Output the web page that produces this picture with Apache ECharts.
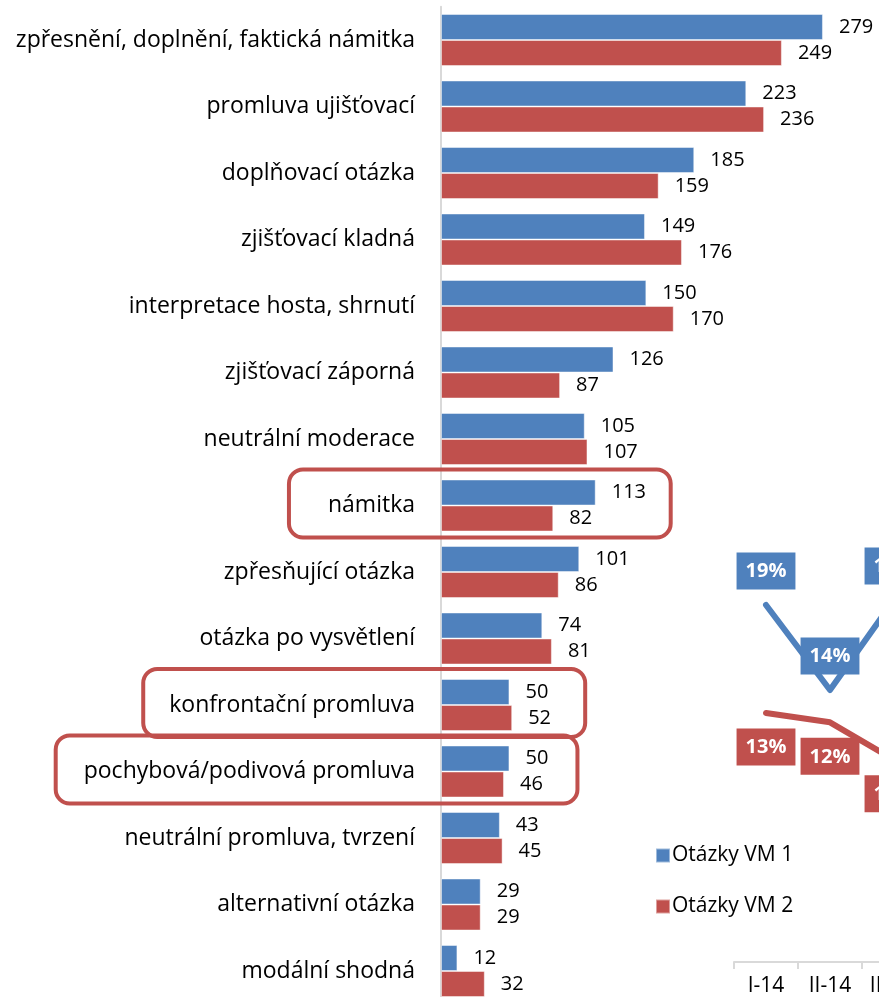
<!DOCTYPE html>
<html>
<head>
<meta charset="utf-8">
<script src="https://cdn.jsdelivr.net/npm/echarts@6/dist/echarts.min.js"></script>
<style>
html,body{margin:0;padding:0;background:#fff;}
#c{width:879px;height:997px;}
</style>
</head>
<body>
<div id="c"></div>
<script>
const categories = [
  'zpřesnění, doplnění, faktická námitka',
  'promluva ujišťovací',
  'doplňovací otázka',
  'zjišťovací kladná',
  'interpretace hosta, shrnutí',
  'zjišťovací záporná',
  'neutrální moderace',
  'námitka',
  'zpřesňující otázka',
  'otázka po vysvětlení',
  'konfrontační promluva',
  'pochybová/podivová promluva',
  'neutrální promluva, tvrzení',
  'alternativní otázka',
  'modální shodná'
];
const vm1 = [279, 223, 185, 149, 150, 126, 105, 113, 101, 74, 50, 50, 43, 29, 12];
const vm2 = [249, 236, 159, 176, 170, 87, 107, 82, 86, 81, 52, 46, 45, 29, 32];
const seriesNames = ['Otázky VM 1', 'Otázky VM 2'];

// partially visible inset line chart
const periods = ['I-14', 'II-14', 'III-14', 'IV-14', 'V-14', 'VI-14'];
const trend1 = [19, 14, 19.3];
const trend2 = [12.65, 12.1, 9.9];

// highlighted categories (annotation boxes)
const highlights = [
  {cat: 'námitka', padLeft: 39, padRight: 75},
  {cat: 'konfrontační promluva', padLeft: 26, padRight: 73},
  {cat: 'pochybová/podivová promluva', padLeft: 28, padRight: 68}
];

const FONT = '"Open Sans", "Noto Sans", sans-serif';
const BLUE = '#4f81bd', RED = '#c0504d';
const CAT_FS = 23;

const chart = echarts.init(document.getElementById('c'));
const pctLabel = (color, pos) => ({
  show: true, position: pos, distance: 15,
  formatter: p => Math.round(p.value) + '%',
  color: '#fff', fontWeight: 'bold', fontSize: 20, fontFamily: FONT,
  backgroundColor: color, padding: [9, 9, 8, 9]
});

chart.setOption({
  animation: false,
  textStyle: {fontFamily: FONT},
  legend: {
    data: seriesNames, orient: 'vertical', left: 650, top: 840,
    itemWidth: 14, itemHeight: 14, itemGap: 30, icon: 'rect',
    textStyle: {fontSize: 21, color: '#000', fontFamily: FONT, padding: [0, 0, 0, -3]}
  },
  grid: [
    {left: 441, top: 6.75, width: 410.7, height: 997.5, outerBoundsMode: 'none', containLabel: false},
    {left: 734, top: 588, width: 384, height: 374, outerBoundsMode: 'none', containLabel: false}
  ],
  xAxis: [
    {type: 'value', min: 0, max: 300, show: false, gridIndex: 0},
    {type: 'category', data: periods, gridIndex: 1,
     axisLine: {onZero: false, lineStyle: {color: '#d9d9d9', width: 2}},
     axisTick: {show: true, length: 7, lineStyle: {color: '#d9d9d9', width: 2}},
     axisLabel: {fontSize: 21, color: '#000', margin: 14, fontFamily: FONT}}
  ],
  yAxis: [
    {type: 'category', data: categories, inverse: true, gridIndex: 0,
     axisLine: {show: true, lineStyle: {color: '#d9d9d9', width: 2}},
     axisTick: {show: false},
     axisLabel: {fontSize: CAT_FS, color: '#000', margin: 26, fontFamily: FONT}},
    {type: 'value', min: -2, max: 20, gridIndex: 1, show: false}
  ],
  series: [
    {name: seriesNames[0], type: 'bar', data: vm1, xAxisIndex: 0, yAxisIndex: 0,
     barWidth: 26, barGap: '0%',
     itemStyle: {color: BLUE, borderColor: 'rgba(255,255,255,0.45)', borderWidth: 1},
     label: {show: true, position: 'right', distance: 16, fontSize: 20, color: '#000', fontFamily: FONT}},
    {name: seriesNames[1], type: 'bar', data: vm2, xAxisIndex: 0, yAxisIndex: 0,
     barWidth: 26, barGap: '0%',
     itemStyle: {color: RED, borderColor: 'rgba(255,255,255,0.45)', borderWidth: 1},
     label: {show: true, position: 'right', distance: 16, fontSize: 20, color: '#000', fontFamily: FONT}},
    {name: 'trend1', type: 'line', data: trend1, xAxisIndex: 1, yAxisIndex: 1,
     symbol: 'circle', symbolSize: 1, showSymbol: true,
     lineStyle: {color: BLUE, width: 6, cap: 'round', join: 'round'},
     itemStyle: {color: BLUE},
     label: pctLabel(BLUE, 'top')},
    {name: 'trend2', type: 'line', data: trend2, xAxisIndex: 1, yAxisIndex: 1,
     symbol: 'circle', symbolSize: 1, showSymbol: true,
     lineStyle: {color: RED, width: 6, cap: 'round', join: 'round'},
     itemStyle: {color: RED},
     label: pctLabel(RED, 'bottom')}
  ]
});

// annotation boxes around highlighted categories
const ctx = document.createElement('canvas').getContext('2d');
ctx.font = CAT_FS + 'px ' + FONT;
const labelRight = chart.convertToPixel({xAxisIndex: 0}, 0) - 26;
const graphics = highlights.map(h => {
  const i = categories.indexOf(h.cat);
  const cy = chart.convertToPixel({yAxisIndex: 0}, i) - 2;
  const tw = ctx.measureText(h.cat).width;
  const x0 = labelRight - tw - h.padLeft;
  const x1 = chart.convertToPixel({xAxisIndex: 0}, Math.max(vm1[i], vm2[i])) + h.padRight;
  return {
    type: 'rect', z: 100,
    shape: {x: x0, y: cy - 34, width: x1 - x0, height: 68, r: 14},
    style: {fill: 'none', stroke: RED, lineWidth: 4}
  };
});
chart.setOption({graphic: graphics});
</script>
</body>
</html>
